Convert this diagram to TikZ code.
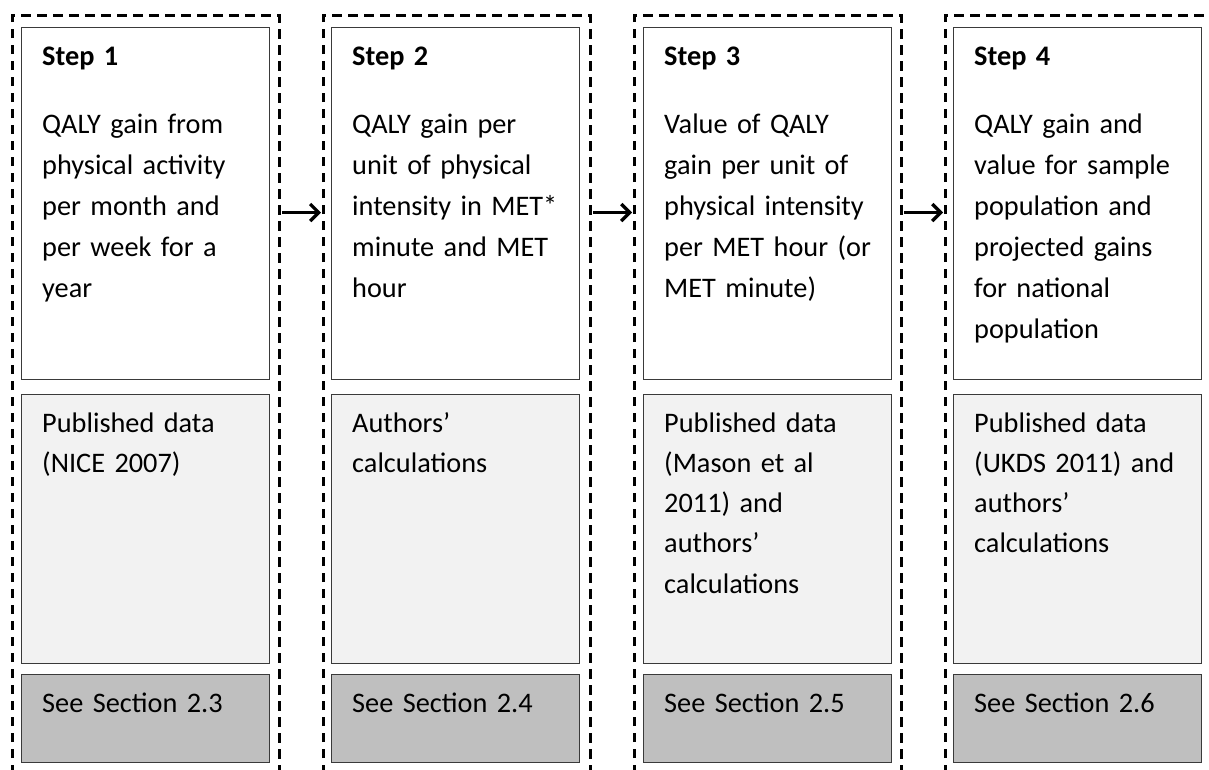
\documentclass[tikz,border=0pt]{standalone}
\usepackage{fontspec}
\setmainfont{Carlito}[WordSpace=0.75]
\usetikzlibrary{arrows.meta}

\definecolor{boxline}{HTML}{3A3A3A}
\definecolor{lightfill}{HTML}{F2F2F2}
\definecolor{darkfill}{HTML}{BFBFBF}

\tikzset{
  frame/.style={line width=3pt, dash pattern=on 9.5pt off 6.5pt},
  panel/.style={draw=boxline, line width=1.4pt, anchor=north west,
                minimum width=248pt, inner sep=0pt},
  stepbox/.style={panel, fill=white, minimum height=352pt},
  sourcebox/.style={panel, fill=lightfill, minimum height=269.5pt},
  refbox/.style={panel, fill=darkfill, minimum height=88pt},
  txt/.style={anchor=base west, inner sep=0pt, text width=220pt, align=left,
              font=\fontsize{28.3}{41}\selectfont},
  srctxt/.style={txt, font=\fontsize{28.3}{40.3}\selectfont},
  head/.style={txt, font=\fontsize{28.3}{41}\selectfont\bfseries},
  flow/.style={line width=3.2pt, -{Straight Barb[length=8.5pt,width=17pt]}}
}

\begin{document}
\begin{tikzpicture}[x=1pt, y=-1pt]
\useasboundingbox (0,0) rectangle (1209,769);
\clip (0,0) rectangle (1209,769);

% dashed frames, open at the bottom
\foreach \l in {12,323,634,945}{
  \draw[frame] (\l,790) -- (\l,15) -- (\l+267,15) -- (\l+267,790);
}

% ---- column 1
\node[stepbox]   (s1) at (21,27) {};
\node[sourcebox] (d1) at (21,393.5) {};
\node[refbox]    (r1) at (21,674) {};
\node[head]   (h1) at (42,65)  {Step 1};
\node[txt]    (t1) at (42,133) {QALY gain from\\physical activity\\per month and\\per week for a\\year};
\node[srctxt] (p1) at (42,432) {Published data\\(NICE 2007)};
\node[txt]    (e1) at (42,712) {See Section 2.3};

% ---- column 2
\node[stepbox]   (s2) at (331,27) {};
\node[sourcebox] (d2) at (331,393.5) {};
\node[refbox]    (r2) at (331,674) {};
\node[head]   (h2) at (352,65)  {Step 2};
\node[txt]    (t2) at (352,133) {QALY gain per\\unit of physical\\intensity in MET*\\minute and MET\\hour};
\node[srctxt] (p2) at (352,432) {Authors’\\calculations};
\node[txt]    (e2) at (352,712) {See Section 2.4};

% ---- column 3
\node[stepbox]   (s3) at (643,27) {};
\node[sourcebox] (d3) at (643,393.5) {};
\node[refbox]    (r3) at (643,674) {};
\node[head]   (h3) at (664,65)  {Step 3};
\node[txt]    (t3) at (664,133) {Value of QALY\\gain per unit of\\physical intensity\\per MET hour (or\\MET minute)};
\node[srctxt] (p3) at (664,432) {Published data\\(Mason et al\\2011) and\\authors’\\calculations};
\node[txt]    (e3) at (664,712) {See Section 2.5};

% ---- column 4
\node[stepbox]   (s4) at (953,27) {};
\node[sourcebox] (d4) at (953,393.5) {};
\node[refbox]    (r4) at (953,674) {};
\node[head]   (h4) at (974,65)  {Step 4};
\node[txt]    (t4) at (974,133) {QALY gain and\\value for sample\\population and\\projected gains\\for national\\population};
\node[srctxt] (p4) at (974,432) {Published data\\(UKDS 2011) and\\authors’\\calculations};
\node[txt]    (e4) at (974,712) {See Section 2.6};

% arrows between the frames
\coordinate (a1) at (282,212.5);  \coordinate (b1) at (321,212.5);
\coordinate (a2) at (593,212.5);  \coordinate (b2) at (632,212.5);
\coordinate (a3) at (904,212.5);  \coordinate (b3) at (943,212.5);
\draw[flow] (a1) -- (b1);
\draw[flow] (a2) -- (b2);
\draw[flow] (a3) -- (b3);
\end{tikzpicture}
\end{document}
